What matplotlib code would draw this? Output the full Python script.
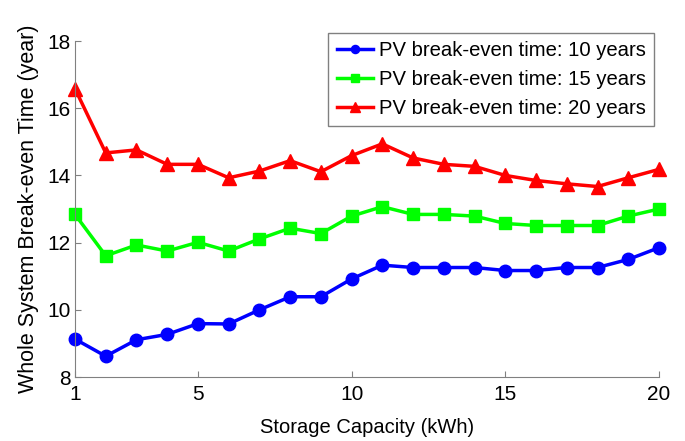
import matplotlib.pyplot as plt
import numpy as np

plt.rcParams['font.family'] = ['Liberation Sans', 'DejaVu Sans']

capacity = np.arange(1, 21)
pv10 = [9.13, 8.62, 9.11, 9.27, 9.59, 9.58, 10.0, 10.39, 10.39, 10.92,
        11.33, 11.26, 11.26, 11.26, 11.17, 11.17, 11.26, 11.26, 11.5, 11.85]
pv15 = [12.84, 11.61, 11.93, 11.75, 12.01, 11.75, 12.11, 12.43, 12.27, 12.79,
        13.07, 12.84, 12.84, 12.79, 12.57, 12.51, 12.51, 12.51, 12.79, 13.0]
pv20 = [16.58, 14.67, 14.76, 14.33, 14.33, 13.93, 14.13, 14.44, 14.11, 14.59,
        14.94, 14.52, 14.33, 14.27, 14.0, 13.85, 13.75, 13.67, 13.93, 14.18]
labels = ['PV break-even time: 10 years',
          'PV break-even time: 15 years',
          'PV break-even time: 20 years']

fig = plt.figure(figsize=(6.85, 4.41), dpi=100)
ax = fig.add_axes([0.1095, 0.145, 0.8525, 0.762])

ax.plot(capacity, pv10, color='#0000ff', marker='o', ms=9, lw=2.5, label=labels[0], clip_on=False)
ax.plot(capacity, pv15, color='#00ff00', marker='s', ms=9, lw=2.5, label=labels[1], clip_on=False)
ax.plot(capacity, pv20, color='#ff0000', marker='^', ms=10, lw=2.5, label=labels[2], clip_on=False)

ax.set_xlim(1, 20)
ax.set_ylim(8, 18)
ax.set_xticks([1, 5, 10, 15, 20])
ax.set_yticks([8, 10, 12, 14, 16, 18])
ax.tick_params(direction='in', length=4, labelsize=15, color='#808080')
ax.tick_params(axis='x', pad=6)
ax.tick_params(axis='y', pad=3)

for s in ['top', 'right']:
    ax.spines[s].set_visible(False)
for s in ['left', 'bottom']:
    ax.spines[s].set_color('#808080')

ax.set_xlabel('Storage Capacity (kWh)', fontsize=14.5, labelpad=10)
ax.set_ylabel('Whole System Break-even Time (year)', fontsize=15.5, labelpad=6)

leg = ax.legend(loc='upper right', fontsize=14.6, fancybox=False, framealpha=1,
                edgecolor='#808080', handlelength=1.8, handletextpad=0.3,
                borderaxespad=0, bbox_to_anchor=(0.992, 1.025),
                labelspacing=0.5, markerscale=0.65, borderpad=0.4)
leg.get_frame().set_linewidth(1.0)

fig.savefig('out.png', dpi=100)
